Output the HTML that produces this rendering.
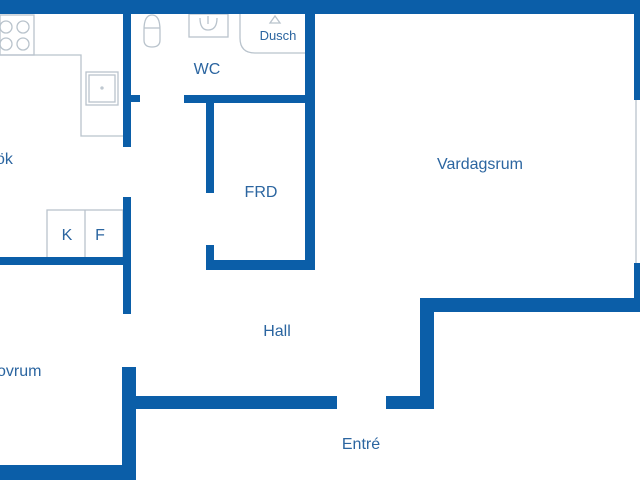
<!DOCTYPE html>
<html><head><meta charset="utf-8"><style>
html,body{margin:0;padding:0;background:#fff;width:640px;height:480px;overflow:hidden}
</style></head><body>
<svg width="640" height="480" viewBox="0 0 640 480" xmlns="http://www.w3.org/2000/svg">
<g fill="none" stroke="#b9c3cc" stroke-width="1.3">
  <path d="M0 55 H81 V136 H123"/>
  <rect x="0" y="15" width="34" height="40"/>
  <circle cx="6" cy="27" r="6"/><circle cx="23" cy="27" r="6"/>
  <circle cx="6" cy="44" r="6"/><circle cx="23" cy="44" r="6"/>
  <rect x="86" y="72" width="32" height="33"/>
  <rect x="89" y="75" width="26" height="27"/>
  <circle cx="102" cy="88" r="1"/>
  <rect x="47" y="210" width="76" height="48"/>
  <line x1="85" y1="210" x2="85" y2="258"/>
  <path d="M144 30 Q144 15 152 15 Q160 15 160 30 V40 Q160 47 152 47 Q144 47 144 40 Z"/>
  <line x1="144" y1="28" x2="160" y2="28"/>
  <rect x="189" y="14" width="39" height="23"/>
  <path d="M200 18 Q200 30 208 30 Q217 30 217 18"/>
  <line x1="208" y1="16" x2="208" y2="24"/>
  <path d="M240 14 V38 Q240 53 255 53 H305"/>
  <path d="M275 16 L270 23 H280 Z"/>
  <line x1="636" y1="100" x2="636" y2="263"/>
</g>
<g fill="#0b5ea8">
  <rect x="0" y="0" width="640" height="14"/>
  <rect x="123" y="0" width="8" height="147"/>
  <rect x="123" y="95" width="17" height="7"/>
  <rect x="184" y="95" width="130" height="8"/>
  <rect x="305" y="0" width="10" height="270"/>
  <rect x="206" y="95" width="8" height="98"/>
  <rect x="206" y="245" width="8" height="25"/>
  <rect x="206" y="260" width="109" height="10"/>
  <rect x="0" y="257" width="131" height="8"/>
  <rect x="123" y="197" width="8" height="117"/>
  <rect x="122" y="367" width="14" height="113"/>
  <rect x="0" y="465" width="136" height="15"/>
  <rect x="122" y="396" width="215" height="13"/>
  <rect x="386" y="396" width="48" height="13"/>
  <rect x="420" y="298" width="14" height="111"/>
  <rect x="420" y="298" width="220" height="14"/>
  <rect x="634" y="0" width="6" height="100"/>
  <rect x="634" y="263" width="6" height="49"/>
</g>
<g fill="#2b65a0" font-family="Liberation Sans, sans-serif" font-size="16">
  <text x="207" y="74" text-anchor="middle">WC</text>
  <text x="261" y="197" text-anchor="middle">FRD</text>
  <text x="480" y="169" text-anchor="middle">Vardagsrum</text>
  <text x="277" y="336" text-anchor="middle">Hall</text>
  <text x="361" y="449" text-anchor="middle">Entré</text>
  <text x="-4" y="164">ök</text>
  <text x="-3" y="376">ovrum</text>
  <text x="67" y="240" text-anchor="middle">K</text>
  <text x="100" y="240" text-anchor="middle">F</text>
  <text x="278" y="40" text-anchor="middle" font-size="13">Dusch</text>
</g>
</svg>
</body></html>
